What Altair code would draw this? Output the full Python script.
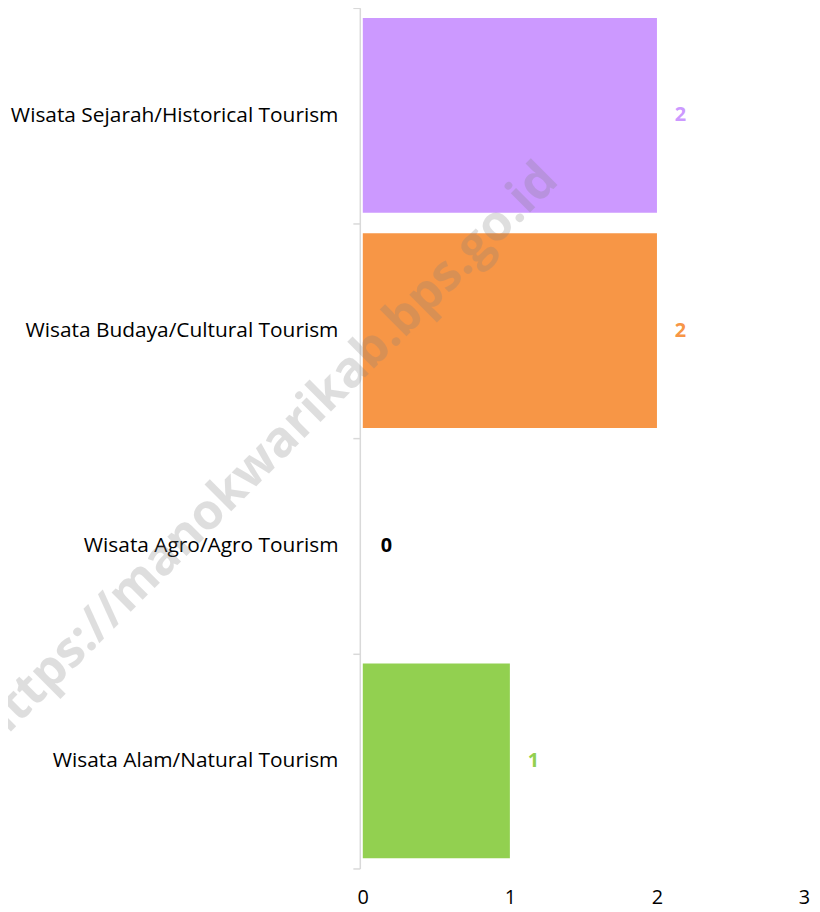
import altair as alt
import pandas as pd

categories = [
    "Wisata Sejarah/Historical Tourism",
    "Wisata Budaya/Cultural Tourism",
    "Wisata Agro/Agro Tourism",
    "Wisata Alam/Natural Tourism",
]
values = [2, 2, 0, 1]
bar_colors = ["#CC99FF", "#F79646", "#92D050", "#92D050"]
label_colors = ["#CC99FF", "#F79646", "#000000", "#92D050"]
x_ticks = [0, 1, 2, 3]
watermark_text = "https://manokwarikab.bps.go.id"

FONT = "Open Sans"

df = pd.DataFrame({
    "category": categories,
    "value": values,
    "label_color": label_colors,
})

y_enc = alt.Y(
    "category:N",
    sort=categories,
    scale=alt.Scale(paddingInner=0, paddingOuter=0),
    axis=alt.Axis(
        title=None,
        labelFont=FONT,
        labelFontSize=21,
        labelColor="#000000",
        labelPadding=15,
        domainColor="#D9D9D9",
        domainWidth=1.5,
        tickColor="#D9D9D9",
        tickWidth=1.5,
        tickSize=7,
        tickBand="extent",
        offset=3,
        labelLimit=400,
    ),
)
x_enc = alt.X(
    "value:Q",
    scale=alt.Scale(domain=[0, 3], nice=False),
    axis=alt.Axis(
        title=None,
        values=x_ticks,
        grid=False,
        domain=False,
        ticks=False,
        labelFont=FONT,
        labelFontSize=20,
        labelColor="#000000",
        labelPadding=19,
        labelFlush=False,
        format="d",
    ),
)

base = alt.Chart(df)

bars = base.mark_bar(height={"band": 0.905}).encode(
    y=y_enc,
    x=x_enc,
    color=alt.Color(
        "category:N",
        scale=alt.Scale(domain=categories, range=bar_colors),
        legend=None,
    ),
)

labels = base.mark_text(
    align="left", baseline="middle", dx=18, font=FONT, fontSize=20, fontWeight="bold"
).encode(
    y=alt.Y("category:N", sort=categories),
    x=alt.X("value:Q"),
    text=alt.Text("value:Q"),
    color=alt.Color("label_color:N", scale=None),
)

wm = alt.Chart(pd.DataFrame({"t": [watermark_text]})).mark_text(
    angle=315,
    font=FONT,
    fontSize=50,
    fontWeight="bold",
    color="#808080",
    opacity=0.25,
    align="center",
    baseline="middle",
).encode(
    x=alt.value(-96),
    y=alt.value(449),
    text="t:N",
)

chart = alt.layer(bars, labels, wm).properties(
    width=444,
    height=866,
    autosize="none",
    padding={"left": 357, "top": -3, "right": 8, "bottom": 41},
).configure(
    background="#FFFFFF",
    view=alt.ViewConfig(stroke=None),
)

chart.save("out.html", embed_options={"renderer": "svg", "actions": False})
